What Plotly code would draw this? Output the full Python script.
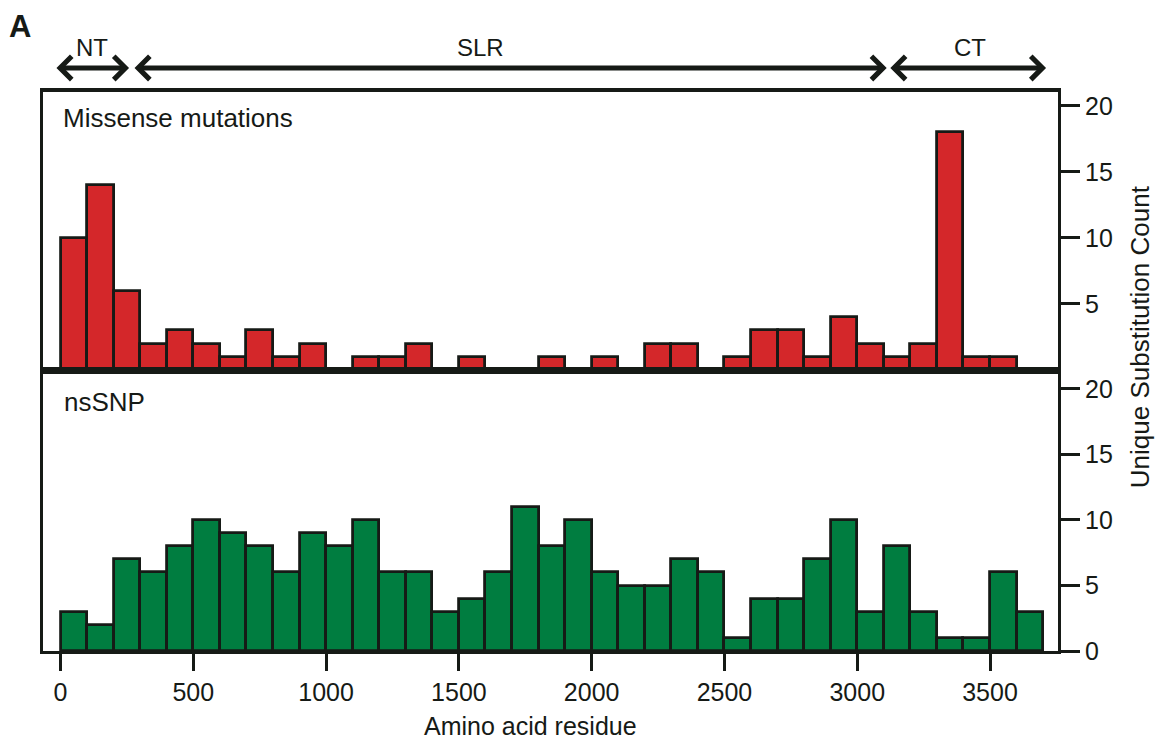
import plotly.graph_objects as go

# ---- data ----
bin_start_missense = list(range(0, 3600, 100))  # 0..3500
missense_counts = [10, 14, 6, 2, 3, 2, 1, 3, 1, 2,
                   0, 1, 1, 2, 0, 1, 0, 0, 1, 0,
                   1, 0, 2, 2, 0, 1, 3, 3, 1, 4,
                   2, 1, 2, 18, 1, 1]
bin_start_nssnp = list(range(0, 3700, 100))  # 0..3600
nssnp_counts = [3, 2, 7, 6, 8, 10, 9, 8, 6, 9,
                8, 10, 6, 6, 3, 4, 6, 11, 8, 10,
                6, 5, 5, 7, 6, 1, 4, 4, 7, 10,
                3, 8, 3, 1, 1, 6, 3]
x_ticks = [0, 500, 1000, 1500, 2000, 2500, 3000, 3500]
y_ticks_top = [5, 10, 15, 20]
y_ticks_bottom = [0, 5, 10, 15, 20]
domains = [("NT", -21, 258, 119), ("SLR", 273, 3111, 1583), ("CT", 3119, 3711, 3424)]

RED = "#D4272A"
GREEN = "#007D40"
INK = "#161a16"
FONT = "Liberation Sans, Arial, Helvetica, sans-serif"

fig = go.Figure()
fig.add_trace(go.Bar(x=bin_start_missense, y=missense_counts, offset=0, width=100,
                     marker=dict(color=RED, line=dict(color=INK, width=2.8)),
                     xaxis="x", yaxis="y", showlegend=False))
fig.add_trace(go.Bar(x=bin_start_nssnp, y=nssnp_counts, offset=0, width=100,
                     marker=dict(color=GREEN, line=dict(color=INK, width=2.8)),
                     xaxis="x2", yaxis="y2", showlegend=False))

xr = [-66, 3756]
common_y = dict(side="right", showline=True, linecolor=INK, linewidth=3, mirror=True,
                ticks="outside", ticklen=19, tickwidth=3, tickcolor=INK,
                showgrid=False, zeroline=False,
                tickfont=dict(family=FONT, size=25, color=INK))

fig.update_layout(
    width=1161, height=742,
    margin=dict(l=43, r=103, t=92, b=91),
    paper_bgcolor="white", plot_bgcolor="white",
    bargap=0,
    font=dict(family=FONT, color=INK),
    xaxis=dict(domain=[0, 1], range=xr, anchor="y", matches="x2",
               showline=True, linecolor=INK, linewidth=4, mirror=True,
               ticks="", showticklabels=False, showgrid=False, zeroline=False),
    yaxis=dict(domain=[0.5027, 1], range=[0, 21.06], anchor="x",
               tickvals=y_ticks_top, **common_y),
    xaxis2=dict(domain=[0, 1], range=xr, anchor="y2",
                showline=True, linecolor=INK, linewidth=3, mirror=True,
                ticks="outside", ticklen=17, tickwidth=3, tickcolor=INK,
                tickvals=x_ticks, showgrid=False, zeroline=False,
                tickfont=dict(family=FONT, size=25, color=INK)),
    yaxis2=dict(domain=[0, 0.5027], range=[0, 21.45], anchor="x2",
                tickvals=y_ticks_bottom, **common_y),
)

ann = []
# panel labels
ann.append(dict(text="Missense mutations", x=0.018, y=0.953, xref="paper", yref="paper",
                xanchor="left", yanchor="middle", showarrow=False,
                font=dict(family=FONT, size=26, color=INK)))
ann.append(dict(text="nsSNP", x=0.019, y=0.445, xref="paper", yref="paper",
                xanchor="left", yanchor="middle", showarrow=False,
                font=dict(family=FONT, size=26, color=INK)))
# axis titles
ann.append(dict(text="Amino acid residue", x=0.48, y=-0.134, xref="paper", yref="paper",
                xanchor="center", yanchor="middle", showarrow=False,
                font=dict(family=FONT, size=25, color=INK)))
ann.append(dict(text="Unique Substitution Count", x=1.081, y=0.5617, xref="paper", yref="paper",
                xanchor="center", yanchor="middle", showarrow=False, textangle=-90,
                font=dict(family=FONT, size=26, color=INK)))
# panel letter
ann.append(dict(text="<b>A</b>", x=-0.023, y=1.118, xref="paper", yref="paper",
                xanchor="center", yanchor="middle", showarrow=False,
                font=dict(family=FONT, size=31, color=INK)))
# domain arrows
for name, x0, x1, xc in domains:
    ann.append(dict(text="", x=x1, y=1.043, xref="x", yref="paper",
                    ax=x0, ay=0, axref="x", ayref="pixel",
                    showarrow=True, arrowside="end+start", arrowhead=4,
                    startarrowhead=4, arrowsize=0.9, startarrowsize=0.9,
                    arrowwidth=5, arrowcolor=INK))
    ann.append(dict(text=name, x=xc, y=1.0805, xref="x", yref="paper",
                    xanchor="center", yanchor="middle", showarrow=False,
                    font=dict(family=FONT, size=24, color=INK)))
fig.update_layout(annotations=ann)

fig.write_html("out.html", config={"displayModeBar": False},
               post_script="document.body.style.margin='0';document.body.style.padding='0';document.body.style.overflow='hidden';")
